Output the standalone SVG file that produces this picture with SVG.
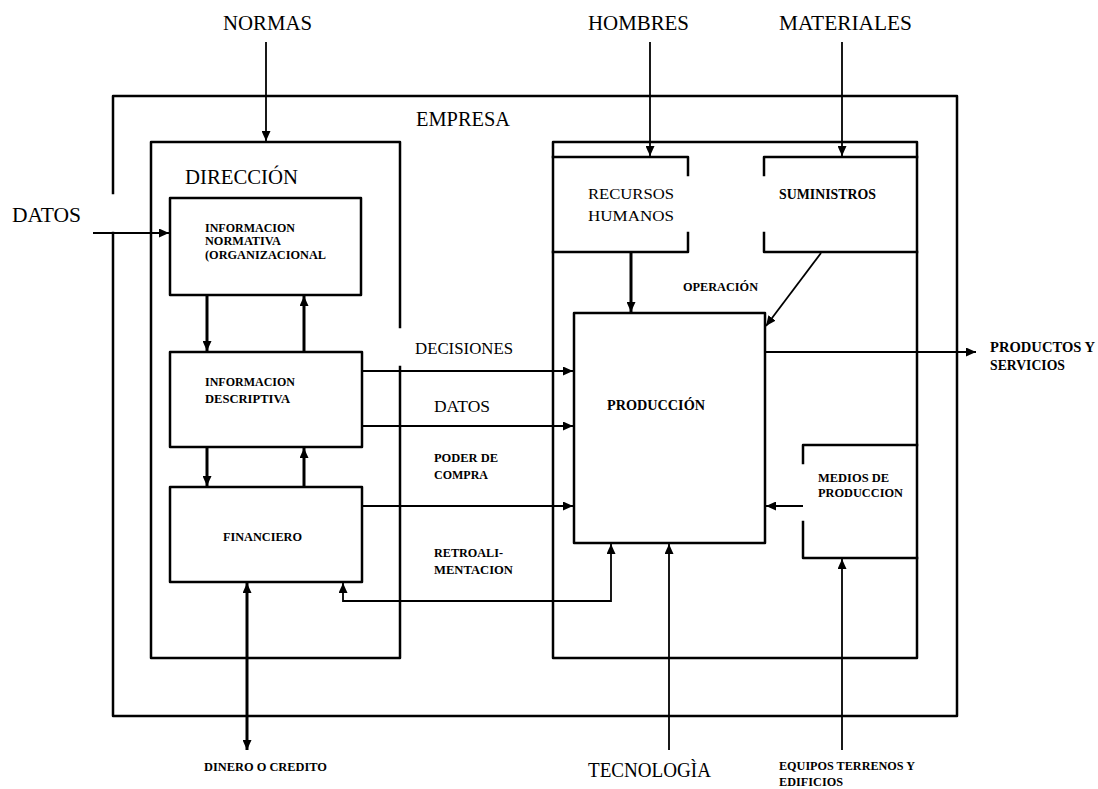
<svg xmlns="http://www.w3.org/2000/svg" width="1098" height="789" viewBox="0 0 1098 789">
<style>
.box{fill:none;stroke:#000;stroke-width:2.5;stroke-linejoin:round;stroke-linecap:square}
.c{fill:none;stroke:#000;stroke-width:1.8}
.thick{stroke-width:3}
.big{font-family:"Liberation Serif","Times New Roman",serif;font-size:20px;fill:#000}
.mid{font-family:"Liberation Serif","Times New Roman",serif;font-size:17px;fill:#000}
.sm{font-family:"Liberation Serif","Times New Roman",serif;font-size:12px;font-weight:bold;fill:#000}
.smr{font-family:"Liberation Serif","Times New Roman",serif;font-size:15px;fill:#000}
.smb{font-family:"Liberation Serif","Times New Roman",serif;font-size:14px;font-weight:bold;fill:#000}
</style>
<defs>
<marker id="ah" viewBox="0 0 10 9" refX="10" refY="4.5" markerWidth="10" markerHeight="9" markerUnits="userSpaceOnUse" orient="auto-start-reverse">
<path d="M0,0 L10,4.5 L0,9 z" fill="#000"/>
</marker>
</defs>
<rect width="1098" height="789" fill="#fff"/>

<g id="empresa">
<path class="box" d="M113,193 L113,96 L957,96 L957,716 L113,716 L113,233"/>
<text class="big" x="416" y="126" textLength="94" lengthAdjust="spacingAndGlyphs">EMPRESA</text>
</g>

<g id="direccion">
<path class="box" d="M400,327 L400,142 L151,142 L151,658 L400,658 L400,367"/>
<text class="big" x="185" y="184" textLength="113" lengthAdjust="spacingAndGlyphs">DIRECCIÓN</text>
</g>

<g id="info-normativa">
<rect class="box" x="170" y="198" width="191" height="97"/>
<text class="sm" x="205" y="232" textLength="90" lengthAdjust="spacingAndGlyphs">INFORMACION</text>
<text class="sm" x="205" y="245" textLength="76" lengthAdjust="spacingAndGlyphs">NORMATIVA</text>
<text class="sm" x="205" y="259" textLength="121" lengthAdjust="spacingAndGlyphs">(ORGANIZACIONAL</text>
</g>

<g id="info-descriptiva">
<rect class="box" x="170" y="352" width="192" height="95"/>
<text class="sm" x="205" y="386" textLength="90" lengthAdjust="spacingAndGlyphs">INFORMACION</text>
<text class="sm" x="205" y="403" textLength="85" lengthAdjust="spacingAndGlyphs">DESCRIPTIVA</text>
</g>

<g id="financiero">
<rect class="box" x="170" y="487" width="192" height="95"/>
<text class="sm" x="223" y="541" textLength="79" lengthAdjust="spacingAndGlyphs">FINANCIERO</text>
</g>

<g id="operacion">
<rect class="box" x="553" y="142" width="364" height="516"/>
<text class="sm" x="683" y="291" font-size="11" textLength="75" lengthAdjust="spacingAndGlyphs">OPERACIÓN</text>
</g>

<g id="recursos-humanos">
<path class="box" d="M553,157 L688,157 L688,175 M688,233 L688,252 L553,252"/>
<text class="smr" x="588" y="199" textLength="86" lengthAdjust="spacingAndGlyphs">RECURSOS</text>
<text class="smr" x="588" y="221" textLength="86" lengthAdjust="spacingAndGlyphs">HUMANOS</text>
</g>

<g id="suministros">
<path class="box" d="M764,175 L764,157 L917,157 M764,233 L764,252 L917,252"/>
<text class="smb" x="779" y="199" textLength="97" lengthAdjust="spacingAndGlyphs">SUMINISTROS</text>
</g>

<g id="produccion">
<rect class="box" x="574" y="313" width="191" height="230"/>
<text class="smb" x="607" y="410" font-size="15" textLength="98" lengthAdjust="spacingAndGlyphs">PRODUCCIÓN</text>
</g>

<g id="medios">
<path class="box" d="M917,445 L803,445 L803,463 M803,522 L803,558 L917,558"/>
<text class="sm" x="818" y="482" textLength="71" lengthAdjust="spacingAndGlyphs">MEDIOS DE</text>
<text class="sm" x="818" y="497" textLength="85" lengthAdjust="spacingAndGlyphs">PRODUCCION</text>
</g>

<g id="labels">
<text class="big" x="223" y="30" textLength="89" lengthAdjust="spacingAndGlyphs">NORMAS</text>
<text class="big" x="588" y="30" textLength="101" lengthAdjust="spacingAndGlyphs">HOMBRES</text>
<text class="big" x="779" y="30" textLength="133" lengthAdjust="spacingAndGlyphs">MATERIALES</text>
<text class="big" x="12" y="222" textLength="69" lengthAdjust="spacingAndGlyphs">DATOS</text>
<text class="mid" x="415" y="354" textLength="98" lengthAdjust="spacingAndGlyphs">DECISIONES</text>
<text class="mid" x="434" y="412" textLength="56" lengthAdjust="spacingAndGlyphs">DATOS</text>
<text class="sm" x="434" y="462" textLength="64" lengthAdjust="spacingAndGlyphs">PODER DE</text>
<text class="sm" x="434" y="479" textLength="54" lengthAdjust="spacingAndGlyphs">COMPRA</text>
<text class="sm" x="434" y="557" textLength="69" lengthAdjust="spacingAndGlyphs">RETROALI-</text>
<text class="sm" x="434" y="574" textLength="79" lengthAdjust="spacingAndGlyphs">MENTACION</text>
<text class="sm" x="204" y="771" textLength="123" lengthAdjust="spacingAndGlyphs">DINERO O CREDITO</text>
<text class="big" x="588" y="777" textLength="123" lengthAdjust="spacingAndGlyphs">TECNOLOGÌA</text>
<text class="sm" x="779" y="770" font-size="11" textLength="136" lengthAdjust="spacingAndGlyphs">EQUIPOS TERRENOS Y</text>
<text class="sm" x="779" y="786" font-size="11" textLength="64" lengthAdjust="spacingAndGlyphs">EDIFICIOS</text>
<text class="smb" x="990" y="352" textLength="105" lengthAdjust="spacingAndGlyphs">PRODUCTOS Y</text>
<text class="smb" x="990" y="370" textLength="75" lengthAdjust="spacingAndGlyphs">SERVICIOS</text>
</g>

<g id="connectors">
<line class="c" x1="266" y1="42" x2="266" y2="141" marker-end="url(#ah)"/>
<line class="c" x1="650" y1="42" x2="650" y2="156" marker-end="url(#ah)"/>
<line class="c" x1="842" y1="42" x2="842" y2="156" marker-end="url(#ah)"/>
<line class="c" x1="93" y1="233" x2="169" y2="233" marker-end="url(#ah)"/>
<line class="c thick" x1="207" y1="296" x2="207" y2="351" marker-end="url(#ah)"/>
<line class="c thick" x1="304" y1="351" x2="304" y2="296" marker-end="url(#ah)"/>
<line class="c thick" x1="207" y1="448" x2="207" y2="486" marker-end="url(#ah)"/>
<line class="c thick" x1="304" y1="486" x2="304" y2="448" marker-end="url(#ah)"/>
<line class="c" x1="363" y1="371" x2="573" y2="371" marker-end="url(#ah)"/>
<line class="c" x1="363" y1="426" x2="573" y2="426" marker-end="url(#ah)"/>
<line class="c" x1="363" y1="506" x2="573" y2="506" marker-end="url(#ah)"/>
<line class="c thick" x1="631" y1="253" x2="631" y2="312" marker-end="url(#ah)"/>
<line class="c" x1="821" y1="253" x2="766" y2="326" marker-end="url(#ah)"/>
<line class="c" x1="766" y1="352" x2="976" y2="352" marker-end="url(#ah)"/>
<line class="c" x1="803" y1="506" x2="766" y2="506" marker-end="url(#ah)"/>
<line class="c" x1="669" y1="750" x2="669" y2="544" marker-end="url(#ah)"/>
<line class="c" x1="842" y1="750" x2="842" y2="559" marker-end="url(#ah)"/>
<path class="c" d="M343,583 L343,601 L611,601 L611,544" marker-start="url(#ah)" marker-end="url(#ah)"/>
<line class="c thick" x1="247" y1="583" x2="247" y2="750" marker-start="url(#ah)" marker-end="url(#ah)"/>
</g>
</svg>
